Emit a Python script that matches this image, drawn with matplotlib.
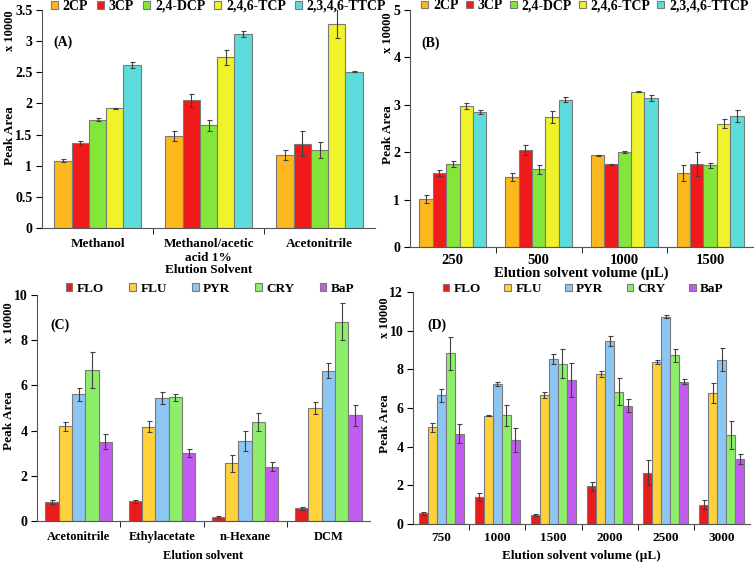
import numpy as np
import matplotlib
matplotlib.use('Agg')
import matplotlib.pyplot as plt

plt.rcParams['font.family'] = ['Liberation Serif', 'DejaVu Serif']
plt.rcParams['font.weight'] = 'bold'

# ---- data (peak area, x 10000) ----
cp_names = ['2CP', '3CP', '2,4-DCP', '2,4,6-TCP', '2,3,4,6-TTCP']
cp_colors = ['#FDB81E', '#F01A1A', '#84E63A', '#F0F22A', '#5CDCDA']

a_cats = ['Methanol', 'Methanol/acetic\nacid 1%', 'Acetonitrile']
a_vals = [[1.08, 1.48, 1.17],
          [1.36, 2.05, 1.35],
          [1.74, 1.65, 1.25],
          [1.92, 2.74, 3.28],
          [2.62, 3.12, 2.51]]
a_errs = [[0.02, 0.08, 0.08],
          [0.03, 0.10, 0.20],
          [0.03, 0.09, 0.13],
          [0.01, 0.12, 0.23],
          [0.05, 0.05, 0.01]]

b_cats = ['250', '500', '1000', '1500']
b_vals = [[1.01, 1.48, 1.94, 1.56],
          [1.56, 2.05, 1.75, 1.75],
          [1.75, 1.64, 2.00, 1.72],
          [2.97, 2.74, 3.28, 2.60],
          [2.84, 3.11, 3.14, 2.76]]
b_errs = [[0.08, 0.08, 0.01, 0.16],
          [0.07, 0.10, 0.01, 0.25],
          [0.06, 0.10, 0.02, 0.05],
          [0.06, 0.12, 0.02, 0.09],
          [0.04, 0.05, 0.06, 0.12]]

pah_names = ['FLO', 'FLU', 'PYR', 'CRY', 'BaP']
pah_colors = ['#E81C1C', '#FFD23C', '#8CC6F2', '#8EEE6A', '#C25CF0']

c_cats = ['Acetonitrile', 'Ethylacetate', 'n-Hexane', 'DCM']
c_vals = [[0.85, 0.87, 0.17, 0.57],
          [4.20, 4.18, 2.55, 5.00],
          [5.60, 5.45, 3.55, 6.65],
          [6.70, 5.48, 4.40, 8.82],
          [3.50, 3.00, 2.40, 4.67]]
c_errs = [[0.10, 0.08, 0.04, 0.07],
          [0.20, 0.25, 0.36, 0.25],
          [0.30, 0.27, 0.45, 0.33],
          [0.80, 0.15, 0.40, 0.83],
          [0.33, 0.17, 0.20, 0.48]]

d_cats = ['750', '1000', '1500', '2000', '2500', '3000']
d_vals = [[0.55, 1.38, 0.45, 1.95, 2.65, 1.00],
          [5.00, 5.60, 6.67, 7.75, 8.37, 6.77],
          [6.65, 7.25, 8.52, 9.47, 10.72, 8.50],
          [8.82, 5.62, 8.28, 6.85, 8.72, 4.60],
          [4.67, 4.37, 7.45, 6.12, 7.37, 3.35]]
d_errs = [[0.08, 0.20, 0.05, 0.22, 0.65, 0.22],
          [0.25, 0.02, 0.15, 0.17, 0.10, 0.50],
          [0.33, 0.10, 0.25, 0.25, 0.08, 0.60],
          [0.83, 0.55, 0.75, 0.70, 0.33, 0.72],
          [0.48, 0.62, 0.90, 0.33, 0.15, 0.25]]

W, H = 756, 563
fig = plt.figure(figsize=(W / 100, H / 100), dpi=100)


def make_ax(l, r, t, b):
    return fig.add_axes([l / W, (H - b) / H, (r - l) / W, (b - t) / H])


def panel(ax, cats, vals, errs, names, colors, ymax, ystep, tag, tag_xy,
          xlabel, xfs, xpad, xlab_pad, leg_xy, leg_fs, colsp, group=0.78):
    n = len(names)
    x = np.arange(len(cats))
    bw = group / n
    for i in range(n):
        ax.bar(x - group / 2 + bw * (i + 0.5), vals[i], bw, yerr=errs[i],
               color=colors[i], edgecolor='#7a7a7a', linewidth=0.8,
               label=names[i], capsize=1.8,
               error_kw=dict(ecolor='#404040', elinewidth=0.8, capthick=0.8))
    ax.set_xlim(-0.5, len(cats) - 0.5)
    ax.set_ylim(0, ymax)
    yt = np.arange(0, ymax + ystep / 2, ystep)
    ax.set_yticks(yt)
    ax.set_yticklabels([f'{v:g}' for v in yt])
    ax.set_xticks(x)
    ax.set_xticklabels(cats, fontsize=xfs, fontweight='bold')
    ax.set_xticks(np.arange(0.5, len(cats) - 0.5, 1), minor=True)
    ax.tick_params(axis='x', which='major', length=0, pad=xpad)
    ax.tick_params(axis='x', which='minor', length=4, direction='out')
    ax.tick_params(axis='y', length=4, direction='out', labelsize=10, pad=3)
    for s in ['top', 'right']:
        ax.spines[s].set_visible(False)
    for s in ['left', 'bottom']:
        ax.spines[s].set_color('#555555')
    ax.set_xlabel(xlabel, fontsize=xfs, fontweight='bold', labelpad=xlab_pad)
    ax.text(tag_xy[0], tag_xy[1], tag, transform=ax.transAxes, fontsize=10,
            fontweight='bold', va='center')
    ax.legend(loc='center', bbox_to_anchor=leg_xy, ncol=n, frameon=False,
              fontsize=leg_fs, handlelength=0.5, handleheight=0.5,
              handletextpad=0.35, columnspacing=colsp, borderaxespad=0,
              borderpad=0)


axA = make_ax(42, 375, 10, 228)
panel(axA, a_cats, a_vals, a_errs, cp_names, cp_colors, 3.5, 0.5, '(A)',
      (0.033, 0.85), 'Elution Solvent', 9.5, 7, 0,
      (0.53, 1.018), 10, 0.65)
axB = make_ax(410, 753, 10, 247)
panel(axB, b_cats, b_vals, b_errs, cp_names, cp_colors, 5, 1, '(B)',
      (0.032, 0.86), 'Elution solvent volume (μL)', 10.5, 5, -0.5,
      (0.51, 1.017), 10, 0.5)
axC = make_ax(37, 370, 295, 521)
panel(axC, c_cats, c_vals, c_errs, pah_names, pah_colors, 10, 2, '(C)',
      (0.039, 0.867), 'Elution solvent', 9, 7, 5,
      (0.52, 1.027), 9.5, 1.9, group=0.8)
axD = make_ax(413, 750, 292, 524)
panel(axD, d_cats, d_vals, d_errs, pah_names, pah_colors, 12, 2, '(D)',
      (0.042, 0.858), 'Elution solvent volume (µL)', 9.5, 6, 4,
      (0.505, 1.013), 9.5, 1.75, group=0.8)

# y-axis labels and scale notes
for x0, yc, yt in [(10, 136, 31), (388, 135, 33), (9, 421, 323), (385, 424, 318)]:
    fig.text(x0 / W, 1 - yc / H, 'Peak Area', rotation=90, ha='center',
             va='center', fontsize=9.5, fontweight='bold')
    fig.text(x0 / W, 1 - yt / H, 'x 10000', rotation=90, ha='center',
             va='center', fontsize=9, fontweight='bold')

fig.savefig('out.png', dpi=100)
